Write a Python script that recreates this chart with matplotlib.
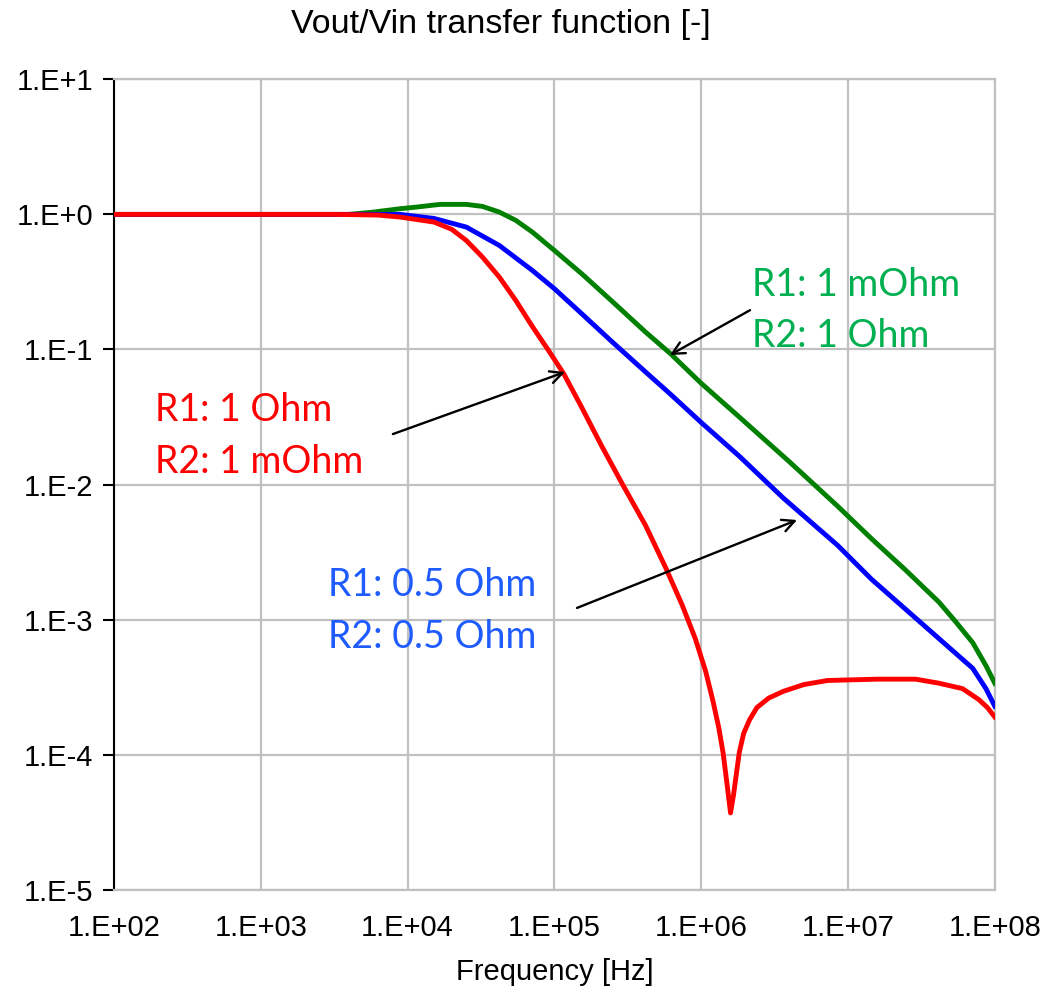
import numpy as np
import matplotlib; matplotlib.use('Agg')
import matplotlib.pyplot as plt

# ================ Data (log10 units) ================
red_logf = [2.0, 3.0, 3.5, 3.8, 3.95, 4.18, 4.30, 4.40, 4.51, 4.625, 4.737, 4.85, 4.96, 5.064, 5.187,
            5.32, 5.46, 5.62, 5.756, 5.87, 5.96, 6.03, 6.08, 6.12, 6.15, 6.18, 6.20, 6.22, 6.24,
            6.26, 6.29, 6.33, 6.38, 6.46, 6.56, 6.70, 6.86, 7.2, 7.46, 7.62, 7.78, 7.89, 7.95, 8.0]
red_logv = [0, 0, 0, -0.005, -0.02, -0.057, -0.11, -0.193, -0.316, -0.464, -0.637, -0.83, -1.007, -1.18, -1.43,
            -1.71, -1.99, -2.30, -2.61, -2.89, -3.14, -3.38, -3.60, -3.80, -3.99, -4.25, -4.43, -4.30, -4.14,
            -3.98, -3.84, -3.74, -3.65, -3.58, -3.53, -3.48, -3.45, -3.44, -3.44, -3.47, -3.51, -3.59, -3.65, -3.72]

blue_logf = [2.0, 3.6, 3.95, 4.18, 4.40, 4.625, 4.85, 5.0, 5.187, 5.39, 5.625, 5.80, 6.0, 6.26,
             6.56, 6.93, 7.16, 7.39, 7.62, 7.85, 7.94, 8.0]
blue_logv = [0, 0, 0, -0.03, -0.094, -0.23, -0.415, -0.55, -0.736, -0.94, -1.17, -1.34, -1.54, -1.79,
             -2.10, -2.45, -2.70, -2.92, -3.14, -3.36, -3.51, -3.64]

green_logf = [2.0, 3.6, 3.75, 3.95, 4.06, 4.22, 4.40, 4.51, 4.625, 4.737, 4.85, 5.0, 5.187, 5.41,
              5.62, 5.79, 6.0, 6.26, 6.6, 6.93, 7.16, 7.39, 7.62, 7.73, 7.85, 7.94, 8.0]
green_logv = [0, 0, 0.015, 0.042, 0.054, 0.074, 0.074, 0.059, 0.017, -0.044, -0.131, -0.267, -0.44, -0.66,
              -0.87, -1.03, -1.25, -1.50, -1.83, -2.16, -2.40, -2.63, -2.87, -3.01, -3.17, -3.34, -3.47]

x_ticks = [1e2, 1e3, 1e4, 1e5, 1e6, 1e7, 1e8]
x_labels = ['1.E+02', '1.E+03', '1.E+04', '1.E+05', '1.E+06', '1.E+07', '1.E+08']
y_ticks = [1e1, 1e0, 1e-1, 1e-2, 1e-3, 1e-4, 1e-5]
y_labels = ['1.E+1', '1.E+0', '1.E-1', '1.E-2', '1.E-3', '1.E-4', '1.E-5']

# ================ Plot ================
plt.rcParams['font.family'] = ['Liberation Sans', 'DejaVu Sans']
fig = plt.figure(figsize=(10.46, 9.91), dpi=100)
ax = fig.add_axes([0.109, 0.102, 0.842, 0.818])

grid_c = '#c0c0c0'
ax.plot(10**np.array(green_logf), 10**np.array(green_logv), color='#008000', lw=3.5, zorder=3)
ax.plot(10**np.array(blue_logf), 10**np.array(blue_logv), color='#0000ff', lw=3.5, zorder=4)
ax.plot(10**np.array(red_logf), 10**np.array(red_logv), color='#ff0000', lw=3.5, zorder=5)

ax.set_xscale('log'); ax.set_yscale('log')
ax.set_xlim(1e2, 1e8); ax.set_ylim(1e-5, 1e1)
ax.set_xticks(x_ticks); ax.set_xticklabels(x_labels)
ax.set_yticks(y_ticks); ax.set_yticklabels(y_labels)
ax.minorticks_off()
ax.grid(True, color=grid_c, lw=1.6)
ax.set_axisbelow(True)
for s in ['top', 'right', 'bottom']:
    ax.spines[s].set_color(grid_c); ax.spines[s].set_linewidth(1.6)
ax.spines['left'].set_color('black'); ax.spines['left'].set_linewidth(1.5)
ax.tick_params(axis='x', length=0, pad=17, labelsize=21)
ax.tick_params(axis='y', length=8, width=1.5, pad=7, labelsize=21)

fig.text(0.479, 0.975, 'Vout/Vin transfer function [-]', fontsize=24.5, ha='center', va='center')
fig.text(0.53, 0.019, 'Frequency [Hz]', fontsize=21, ha='center', va='center')

# annotations
afont = dict(family=['Lato', 'DejaVu Sans'], fontsize=27, va='center', ha='left')
ax.text(10**6.346, 10**-0.524, 'R1: 1 mOhm', color='#00b050', **afont)
ax.text(10**6.346, 10**-0.901, 'R2: 1 Ohm', color='#00b050', **afont)
ax.text(10**2.279, 10**-1.448, 'R1: 1 Ohm', color='#ff0000', **afont)
ax.text(10**2.279, 10**-1.833, 'R2: 1 mOhm', color='#ff0000', **afont)
ax.text(10**3.458, 10**-2.743, 'R1: 0.5 Ohm', color='#1f5cff', **afont)
ax.text(10**3.458, 10**-3.127, 'R2: 0.5 Ohm', color='#1f5cff', **afont)

arw = dict(arrowstyle='->', color='black', lw=1.7, mutation_scale=22, shrinkA=0, shrinkB=0)
ax.annotate('', xy=(10**5.787, 10**-1.041), xytext=(10**6.333, 10**-0.709), arrowprops=arw, zorder=6)
ax.annotate('', xy=(10**5.072, 10**-1.167), xytext=(10**3.90, 10**-1.626), arrowprops=arw, zorder=6)
ax.annotate('', xy=(10**6.653, 10**-2.262), xytext=(10**5.154, 10**-2.913), arrowprops=arw, zorder=6)

plt.savefig('out.png', dpi=100)
plt.close()
